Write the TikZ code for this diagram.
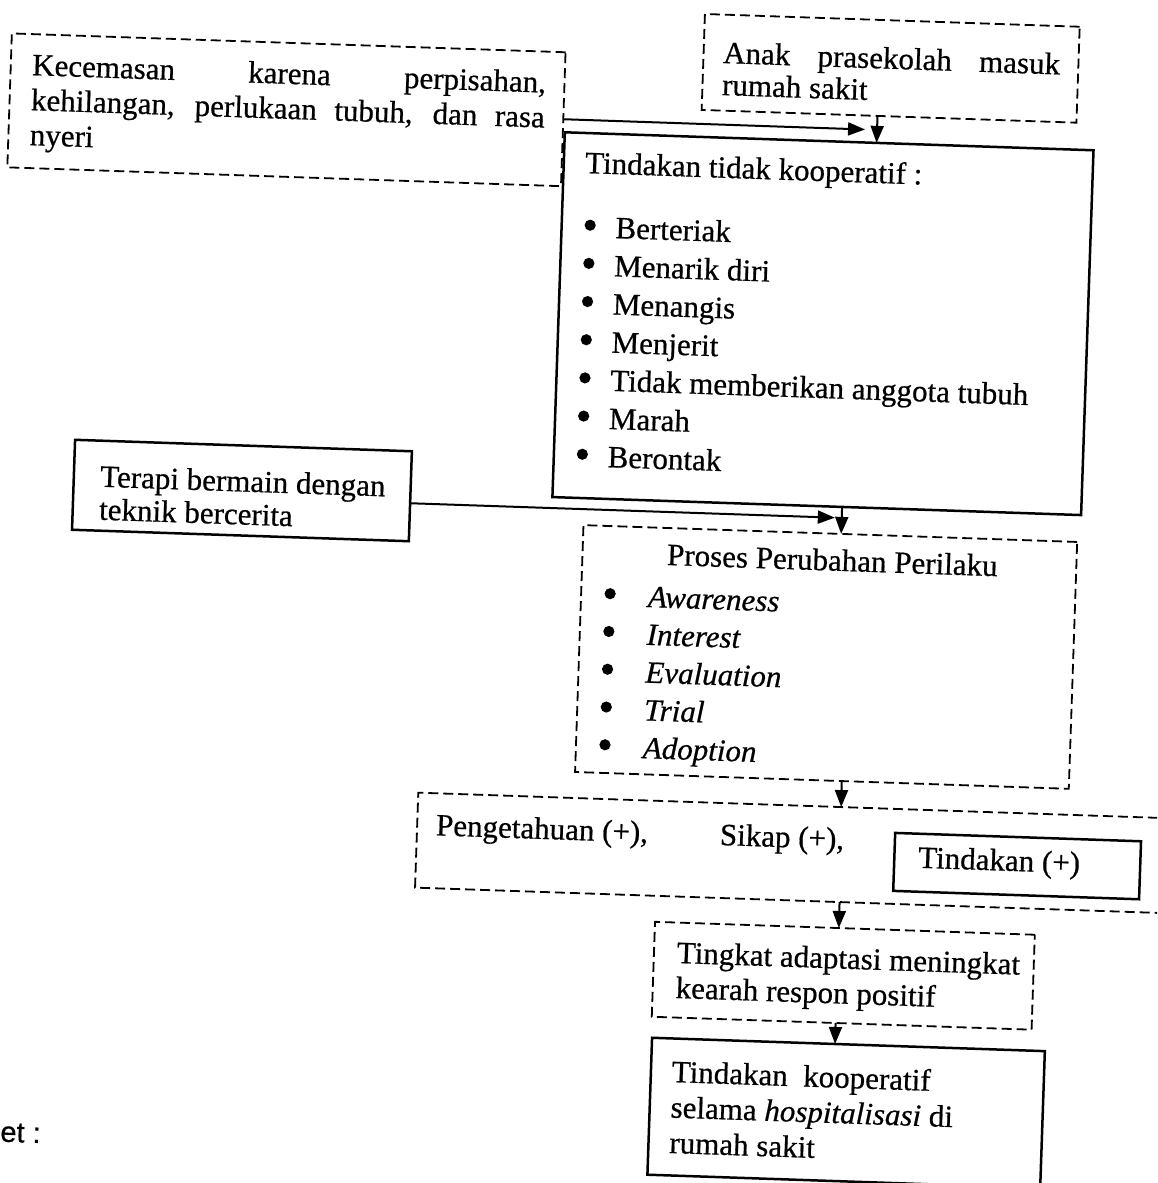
\documentclass[tikz,border=0pt]{standalone}
\usepackage{fontspec}
\setmainfont{Liberation Serif}[FakeBold=0.6]
\newfontfamily\lsans{Liberation Sans}[FakeBold=0.6]
\usetikzlibrary{arrows.meta,calc}
\tikzset{
  every node/.style={inner sep=0pt, outer sep=0pt},
  dbox/.style={draw, line width=0.9pt, dash pattern=on 5pt off 2.5pt, anchor=north west},
  sbox/.style={draw, line width=1.25pt, anchor=north west},
  txt/.style={anchor=north west, align=left},
  arr/.style={line width=1pt, -{Triangle[length=8.5pt,width=6.5pt]}},
  dot/.style={fill=black},
}
\begin{document}
\begin{tikzpicture}[x=0.5pt, y=-0.5pt, font=\fontsize{15.5}{18}\selectfont]
\fill[white] (0,0) rectangle (1157,1183);
\useasboundingbox (0,0) rectangle (1157,1183);
\clip (0,0) rectangle (1157,1183);
\begin{scope}[rotate=-1.95, transform shape]
  % boxes
  \node[dbox, minimum width=277pt, minimum height=67pt] (kec) at (13,33) {};
  \node[dbox, minimum width=187.5pt, minimum height=48pt] (anak) at (705,-10) {};
  \node[sbox, minimum width=264.5pt, minimum height=182.5pt] (tind) at (569,113) {};
  \node[sbox, minimum width=168.5pt, minimum height=45pt] (terapi) at (90,437) {};
  \node[dbox, minimum width=247pt, minimum height=123.5pt] (proses) at (601,505) {};
  \node[dbox, minimum width=400pt, minimum height=47.5pt] (peng) at (445,778) {};
  \node[sbox, minimum width=123pt, minimum height=29pt] (tindp) at (923,802) {};
  \node[dbox, minimum width=190pt, minimum height=47.5pt] (ting) at (686,899) {};
  \node[sbox, minimum width=196.5pt, minimum height=68.5pt] (koop) at (687,1015) {};
  % texts
  \node[txt, font=\fontsize{15.5}{17.5}\selectfont] (kect) at (34.5,49.5)
    {\strut\makebox[257pt][s]{Kecemasan karena perpisahan,}\\
     \makebox[257pt][s]{kehilangan, perlukaan tubuh, dan rasa}\\nyeri};
  \node[txt, font=\fontsize{15.5}{16}\selectfont] (anakt) at (724.7,16)
    {\strut\makebox[168.5pt][s]{Anak prasekolah masuk}\\rumah sakit};
  \node[txt, font=\fontsize{15.5}{19.1}\selectfont] (tindt) at (590.5,126.3)
    {\strut Tindakan tidak kooperatif :\\[12.9pt]
     \hspace{16.25pt}Berteriak\\
     \hspace{16.25pt}Menarik diri\\
     \hspace{16.25pt}Menangis\\
     \hspace{16.25pt}Menjerit\\
     \hspace{16.25pt}Tidak memberikan anggota tubuh\\
     \hspace{16.25pt}Marah\\
     \hspace{16.25pt}Berontak};
  \foreach \yy in {205,243.2,281.4,319.6,357.8,396,434.2}
    \fill[dot] (597.5,\yy) circle (2.8pt);
  \node[txt, font=\fontsize{15.5}{16.5}\selectfont] (terapit) at (116.5,459.9)
    {\strut Terapi bermain dengan\\teknik bercerita};
  \node[anchor=north, font=\fontsize{15.5}{18.9}\selectfont] (prosesh) at (851,515.5)
    {\strut Proses Perubahan Perilaku};
  \node[txt, font=\fontsize{15.5}{18.9}\selectfont] (prosesi) at (621.6,558.2)
    {\strut\hspace{23.2pt}\textit{Awareness}\\
     \hspace{23.2pt}\textit{Interest}\\
     \hspace{23.2pt}\textit{Evaluation}\\
     \hspace{23.2pt}\textit{Trial}\\
     \hspace{23.2pt}\textit{Adoption}};
  \foreach \yy in {572.6,610.4,648.2,686,723.8}
    \fill[dot] (630,\yy) circle (2.8pt);
  \node[anchor=base west] (pengt) at (464,820) {Pengetahuan (+),};
  \node[anchor=base west] (sikapt) at (748,820) {Sikap (+),};
  \node[anchor=base west] (tindpt) at (947,836) {Tindakan (+)};
  \node[txt, font=\fontsize{15.5}{17.5}\selectfont] (tingt) at (709,914.9)
    {\strut Tingkat adaptasi meningkat\\kearah respon positif};
  \node[txt, font=\fontsize{15.5}{17.75}\selectfont] (koopt) at (708,1033.7)
    {\strut Tindakan~ kooperatif\\selama \textit{hospitalisasi} di\\rumah sakit};
  \node[anchor=base west, font=\lsans\fontsize{14.5}{16}\selectfont] (ket) at (39,1141) {et :};
  % connectors
  \coordinate (j1) at (869,100);
  \coordinate (j2) at (852,489);
  \draw[arr] (kec.east) -- (j1);
  \draw[arr] ($(anak.south west)!0.4693!(anak.south east)$) -- ($(tind.north west)!0.5898!(tind.north east)$);
  \draw[arr] ($(terapi.north east)!0.578!(terapi.south east)$) -- (j2);
  \draw[arr] ($(tind.south west)!0.548!(tind.south east)$) -- ($(proses.north west)!0.522!(proses.north east)$);
  \draw[arr] ($(proses.south west)!0.540!(proses.south east)$) -- ($(peng.north west)!0.529!(peng.north east)$);
  \draw[arr] ($(peng.south west)!0.531!(peng.south east)$) -- ($(ting.north west)!0.484!(ting.north east)$);
  \draw[arr] ($(ting.south west)!0.484!(ting.south east)$) -- ($(koop.north west)!0.466!(koop.north east)$);
\end{scope}
\end{tikzpicture}
\end{document}
